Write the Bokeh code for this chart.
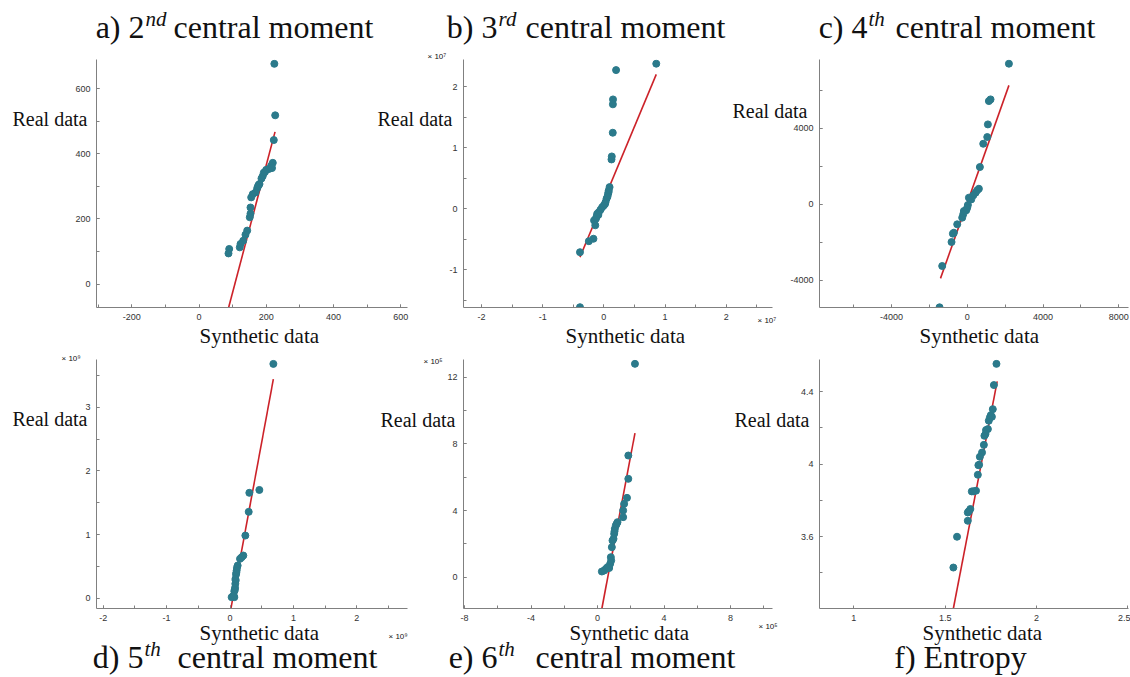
from bokeh.plotting import figure
from bokeh.layouts import row, column
from bokeh.models import Range1d, SingleIntervalTicker, CustomJSTickFormatter, Label
from bokeh.embed import file_html
from bokeh.resources import INLINE

TEAL = "#2b7a8b"
RED = "#cc2229"
AXIS = "#808080"
W, H = 1130, 677

# ---------------- data ----------------
# a) 2nd central moment
a_syn = [224, 226.5, 222.3, 219.3, 214.6, 207.4, 199.7, 192.6, 189.6, 185.7, 179.8, 175.9,
         172.9, 167.9, 159.8, 155.1, 153, 153, 150.9, 143.2, 138.1, 131.3, 123.3, 121.2,
         89.7, 87.6, 217, 196, 177]
a_real = [676, 518, 442, 372, 363, 353, 350.5, 342, 332, 324, 307, 301.5,
          294, 281, 276, 266, 235, 216, 205, 164, 151.5, 133, 123, 112.6,
          107.7, 94, 356, 344, 304]
a_line_x = [88, 226]
a_line_y = [-72, 467]

# b) 3rd central moment (x 1e7)
b_syn = [0.857, 0.20, 0.15, 0.148, 0.146, 0.13, 0.125, 0.094, 0.077, 0.07, 0.044, 0.028,
         0.0, -0.027, -0.055, -0.082, -0.109, -0.13, -0.16, -0.14, -0.17, -0.245, -0.39,
         -0.39, 0.08, 0.06, 0.02, -0.09, -0.12]
b_real = [2.375, 2.27, 1.79, 1.71, 1.245, 0.857, 0.808, 0.355, 0.273, 0.246, 0.164, 0.109,
          0.055, 0.027, -0.016, -0.055, -0.082, -0.164, -0.19, -0.27, -0.49, -0.53, -0.71,
          -1.61, 0.30, 0.20, 0.08, -0.10, -0.13]
b_line_x = [-0.39, 0.857]
b_line_y = [-0.79, 2.20]

# c) 4th central moment
c_syn = [2200, 1231, 1143, 1090, 1057, 845, 668, 615, 528, 440, 317, 211, 88, 35, 0, -53,
         -176, -211, -265, -528, -705, -757, -828, -1320, -1460]
c_real = [7390, 5515, 5425, 4200, 3535, 3183, 1960, 820, 735, 610, 470, 260, 350, -35, -175,
          -315, -350, -525, -700, -1050, -1490, -1540, -1980, -3240, -5410]
c_line_x = [-1410, 2200]
c_line_y = [-3890, 6250]

# d) 5th central moment (x 1e9)
d_syn = [0.684, 0.463, 0.305, 0.295, 0.242, 0.21, 0.185, 0.158, 0.121, 0.11, 0.105, 0.095,
         0.09, 0.084, 0.08, 0.068, 0.058, 0.026, 0.068, 0.10, 0.085, 0.075, 0.05]
d_real = [3.68, 1.70, 1.655, 1.356, 0.984, 0.67, 0.644, 0.618, 0.513, 0.477, 0.435, 0.372,
          0.278, 0.226, 0.163, 0.11, 0.042, 0.016, 0.016, 0.40, 0.30, 0.13, 0.03]
d_line_x = [0.016, 0.684]
d_line_y = [-0.157, 3.44]

# e) 6th central moment (x 1e5)
e_syn = [2.25, 1.85, 1.85, 1.77, 1.60, 1.54, 1.54, 1.20, 1.10, 1.04, 1.0, 0.96, 0.90, 0.86,
         0.80, 0.76, 0.60, 0.50, 0.40, 0.26, 1.15, 1.02, 0.82, 0.70]
e_real = [12.8, 7.30, 5.90, 4.76, 4.40, 4.0, 3.60, 3.30, 3.10, 2.90, 2.60, 2.30, 2.20, 1.80,
          1.20, 0.80, 0.60, 0.50, 0.40, 0.34, 3.2, 2.75, 1.0, 0.55]
e_line_x = [0.26, 2.25]
e_line_y = [-1.88, 8.64]

# f) Entropy
f_syn = [1.781, 1.767, 1.761, 1.756, 1.745, 1.739, 1.734, 1.724, 1.721, 1.715, 1.712, 1.702,
         1.690, 1.682, 1.679, 1.669, 1.646, 1.638, 1.624, 1.624, 1.565, 1.545, 1.75, 1.686,
         1.655, 1.63]
f_real = [4.553, 4.436, 4.303, 4.261, 4.257, 4.239, 4.193, 4.188, 4.166, 4.156, 4.106, 4.064,
          4.040, 3.994, 3.941, 3.853, 3.849, 3.752, 3.733, 3.687, 3.599, 3.429, 4.27, 3.996,
          3.85, 3.74]
f_line_x = [1.545, 1.785]
f_line_y = [3.203, 4.456]

SERIF = "Liberation Serif"
SANS = "Liberation Sans"


# text spec: (text, page_x, page_y_center, size_px, style, align, font)
def T(text, x, y, size, style="normal", align="left", font=SERIF):
    return (text, x, y, size, style, align, font)


TOP_MAIN, TOP_SUP = 26, 18
BOT_MAIN, BOT_SUP = 656, 648
TS, SS = 32, 21

panels = [
    dict(syn=a_syn, real=a_real, lx=a_line_x, ly=a_line_y,
         xr=(-305, 620), yr=(-72, 677), xi=200, yi=200, xminor=True,
         canvas=(0, 0, 440, 350), frame=(96, 63, 407, 307), margin=(0, 0, 0, 0),
         labels=[T("a) 2", 144, TOP_MAIN, TS, align="right"), T("nd", 145, TOP_SUP, SS, "italic"),
                 T("central moment", 173, TOP_MAIN, TS),
                 T("Real data", 12, 118, 20),
                 T("Synthetic data", 199, 335, 21)]),
    dict(syn=b_syn, real=b_real, lx=b_line_x, ly=b_line_y,
         xr=(-2.294, 2.757), yr=(-1.615, 2.378), xi=1, yi=1, xminor=True,
         canvas=(370, 0, 420, 350), frame=(463, 63, 772, 307), margin=(0, 0, 0, -70),
         labels=[T("b) 3", 497, TOP_MAIN, TS, align="right"), T("rd", 498, TOP_SUP, SS, "italic"),
                 T("central moment", 525, TOP_MAIN, TS),
                 T("Real data", 377, 118, 20),
                 T("Synthetic data", 565, 335, 21),
                 T("\u00d7 10\u2077", 427, 56, 8, font=SANS),
                 T("\u00d7 10\u2077", 757, 320, 8, font=SANS)]),
    dict(syn=c_syn, real=c_real, lx=c_line_x, ly=c_line_y,
         xr=(-7795, 8510), yr=(-5420, 7400), xi=4000, yi=4000, xminor=True,
         canvas=(720, 0, 410, 350), frame=(819, 63, 1128, 307), margin=(0, 0, 0, -70),
         labels=[T("c) 4", 867, TOP_MAIN, TS, align="right"), T("th", 868, TOP_SUP, SS, "italic"),
                 T("central moment", 895, TOP_MAIN, TS),
                 T("Real data", 732, 110, 20),
                 T("Synthetic data", 919, 335, 21)]),
    dict(syn=d_syn, real=d_real, lx=d_line_x, ly=d_line_y,
         xr=(-2.106, 2.80), yr=(-0.162, 3.686), xi=1, yi=1, xminor=True,
         canvas=(0, 350, 440, 327), frame=(96, 363, 407, 608), margin=(0, 0, 0, 0),
         labels=[T("d) 5", 143, BOT_MAIN, TS, align="right"), T("th", 144, BOT_SUP, SS, "italic"),
                 T("central moment", 177, BOT_MAIN, TS),
                 T("Real data", 12, 418, 20),
                 T("Synthetic data", 199, 632, 21),
                 T("\u00d7 10\u2079", 61, 358, 8, font=SANS),
                 T("\u00d7 10\u2079", 388, 636, 8, font=SANS)]),
    dict(syn=e_syn, real=e_real, lx=e_line_x, ly=e_line_y,
         xr=(-8.06, 10.52), yr=(-1.88, 12.82), xi=4, yi=4, xminor=True,
         canvas=(370, 350, 420, 327), frame=(463, 363, 772, 608), margin=(0, 0, 0, -70),
         labels=[T("e) 6", 497, BOT_MAIN, TS, align="right"), T("th", 498, BOT_SUP, SS, "italic"),
                 T("central moment", 535, BOT_MAIN, TS),
                 T("Real data", 380, 419, 20),
                 T("Synthetic data", 569, 632, 21),
                 T("\u00d7 10\u2075", 423, 361, 8, font=SANS),
                 T("\u00d7 10\u2075", 758, 626, 8, font=SANS)]),
    dict(syn=f_syn, real=f_real, lx=f_line_x, ly=f_line_y,
         xr=(0.812, 2.504), yr=(3.203, 4.555), xi=0.5, yi=0.4, xminor=False,
         canvas=(720, 350, 410, 327), frame=(819, 363, 1128, 608), margin=(0, 0, 0, -70),
         labels=[T("f) Entropy", 960, BOT_MAIN, TS, align="center"),
                 T("Real data", 734, 419, 20),
                 T("Synthetic data", 922, 632, 21)]),
]

fmt_code = "return String(Math.round(tick*1000)/1000);"
TOP_PAD = 4  # px of headroom so the top-most dot is not cut by the frame


def make(cfg):
    cx, cy, cw, ch = cfg["canvas"]
    l, t, r, b = cfg["frame"]
    x0, x1 = cfg["xr"]
    y0, y1 = cfg["yr"]
    y1e = y1 + TOP_PAD * (y1 - y0) / (b - t)
    te = t - TOP_PAD
    p = figure(width=cw, height=ch, output_backend="svg", toolbar_location=None,
               x_range=Range1d(x0, x1), y_range=Range1d(y0, y1e),
               min_border_left=l - cx, min_border_right=cx + cw - r,
               min_border_top=te - cy, min_border_bottom=cy + ch - b,
               margin=cfg["margin"])
    p.border_fill_color = None
    p.background_fill_color = None
    p.outline_line_color = None
    p.grid.visible = False

    p.xaxis.ticker = SingleIntervalTicker(interval=cfg["xi"], num_minor_ticks=2)
    p.yaxis.ticker = SingleIntervalTicker(interval=cfg["yi"], num_minor_ticks=2)
    for ax in (p.xaxis, p.yaxis):
        ax.formatter = CustomJSTickFormatter(code=fmt_code)
        ax.axis_line_color = AXIS
        ax.axis_line_width = 1
        ax.major_tick_line_color = AXIS
        ax.minor_tick_line_color = AXIS
        ax.major_tick_in = 3
        ax.major_tick_out = 0
        ax.minor_tick_in = 3
        ax.minor_tick_out = 0
        ax.major_label_text_font = SANS
        ax.major_label_text_font_size = "9px"
        ax.major_label_text_color = "#333333"
        ax.major_label_standoff = 6
    if not cfg["xminor"]:
        p.xaxis.minor_tick_line_color = None

    p.line(cfg["lx"], cfg["ly"], line_color=RED, line_width=1.6)
    p.scatter(cfg["syn"], cfg["real"], size=7, fill_color=TEAL, line_color=TEAL)
    return p


figs = [make(c) for c in panels]

# transparent full-page overlay that carries all the free-standing texts
ov = figure(width=W, height=H, output_backend="svg", toolbar_location=None,
            x_range=Range1d(0, W), y_range=Range1d(H, 0),
            x_axis_location=None, y_axis_location=None,
            min_border=0, min_border_left=0, min_border_right=0,
            min_border_top=0, min_border_bottom=0, margin=(-H, 0, 0, 0))
ov.border_fill_color = None
ov.background_fill_color = None
ov.outline_line_color = None
ov.grid.visible = False
for cfg in panels:
    for text, px, py, size, style, align, font in cfg["labels"]:
        ov.add_layout(Label(x=px, y=py, text=text, text_font=font,
                            text_font_size=f"{size}px", text_font_style=style,
                            text_align=align, text_baseline="middle",
                            text_color="#111111"))

layout = column(row(*figs[:3], spacing=0), row(*figs[3:], spacing=0), ov, spacing=0)

open("out.html", "w").write(file_html(layout, INLINE))
